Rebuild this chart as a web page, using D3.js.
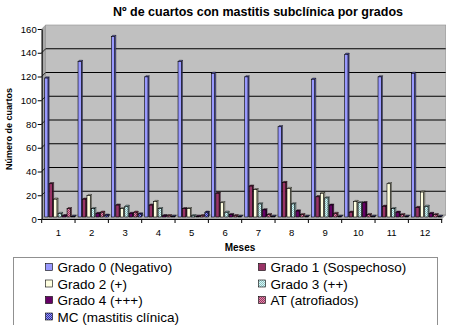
<!DOCTYPE html>
<html><head><meta charset="utf-8">
<script src="https://cdn.jsdelivr.net/npm/d3@7"></script>
<style>body{margin:0;background:#fff}svg{display:block}text{font-family:"Liberation Sans",Arial,sans-serif}</style>
</head><body><svg id="c" width="450" height="325"></svg>
<script>
const months = ["1","2","3","4","5","6","7","8","9","10","11","12"];
const seriesNames = ["Grado 0 (Negativo)","Grado 1 (Sospechoso)","Grado 2 (+)","Grado 3 (++)","Grado 4 (+++)","AT (atrofiados)","MC (mastitis clínica)"];
const grado0 = [117,131,152,118,131,121,118,76,116,137,118,121];
const grado1 = [28,15,10,10,7,20,26,29,17,4,9,8];
const grado2 = [15,18,7,13,7,12,23,24,20,13,28,21];
const grado3 = [3,7,9,7,1,4,11,11,16,12,7,9];
const grado4 = [1,3,3,1,0.5,2,6,5,10,12,4,3];
const at = [7,4,4,1,1,1,2,2,3,2,2,2];
const mc = [0.5,1.5,2.5,0.5,4,0.5,0.5,0.5,0.5,0.5,0.5,0.5];
const yTicks = [0,20,40,60,80,100,120,140,160];
const seriesData = [grado0,grado1,grado2,grado3,grado4,at,mc];

const fills = ["#9999FF","#993366","#FFFFE0","url(#pG3)","#660066","url(#pAT)","url(#pMC)"];
const sides = ["#5c5cb0","#5e1f3f","#b8b8a0","#8fb3b3","#3d003d","#8a3a52","#2a2a70"];

const svg = d3.select("#c");
const defs = svg.append("defs");
function pat(id, bg, fg){
  const p = defs.append("pattern").attr("id",id).attr("width",2).attr("height",2).attr("patternUnits","userSpaceOnUse");
  p.append("rect").attr("width",2).attr("height",2).attr("fill",bg);
  p.append("rect").attr("width",1).attr("height",1).attr("fill",fg);
  p.append("rect").attr("x",1).attr("y",1).attr("width",1).attr("height",1).attr("fill",fg);
}
pat("pG3","#CCFFFF","#99BBBB");
pat("pAT","#E090A8","#993366");
pat("pMC","#9999FF","#333399");

const X0 = 41.7, X1 = 441.7, D = 4;
const y = d3.scaleLinear().domain([0,160]).range([219,29]);
const x = d3.scaleBand().domain(months).range([X0,X1]).padding(0);
const xs = d3.scaleBand().domain(d3.range(7)).range([1,32.3]).padding(0);

// walls
const yb = y(0), yt = y(160);
svg.append("path").attr("d",`M${X0},${yt}L${X0+D},${yt-D}L${X0+D},${yb-D}L${X0},${yb}Z`).attr("fill","#A8A8A8").attr("stroke","#808080").attr("stroke-width",0.5);
svg.append("rect").attr("x",X0+D).attr("y",yt-D).attr("width",X1-X0).attr("height",yb-yt).attr("fill","#C0C0C0").attr("stroke","#909090").attr("stroke-width",0.6);
svg.append("path").attr("d",`M${X0},${yb}L${X0+D},${yb-D}L${X1+D},${yb-D}L${X1},${yb}Z`).attr("fill","#B0B0B0").attr("stroke","#808080").attr("stroke-width",0.5);

// gridlines
yTicks.filter(t=>t>0 && t<160).forEach(t=>{
  svg.append("line").attr("x1",X0+D).attr("x2",X1+D).attr("y1",y(t)-D).attr("y2",y(t)-D).attr("stroke","#000").attr("stroke-width",1);
  svg.append("line").attr("x1",X0).attr("x2",X0+D).attr("y1",y(t)).attr("y2",y(t)-D).attr("stroke","#000").attr("stroke-width",0.8);
});

// bars
const dx = 2, dy = 2, dd = 1.2;
months.forEach((m,i)=>{
  seriesData.forEach((s,k)=>{
    const v = s[i];
    const bx = x(m) + xs(k) + dx;
    const w = xs.bandwidth() - dd;
    const top = y(v) - dy, bot = y(0) - dy;
    const g = svg.append("g");
    g.append("path").attr("d",`M${bx+w},${top}L${bx+w+dd},${top-dd}L${bx+w+dd},${bot-dd}L${bx+w},${bot}Z`).attr("fill",sides[k]).attr("stroke","#000").attr("stroke-width",0.4);
    g.append("path").attr("d",`M${bx},${top}L${bx+dd},${top-dd}L${bx+w+dd},${top-dd}L${bx+w},${top}Z`).attr("fill",sides[k]).attr("stroke","#000").attr("stroke-width",0.4);
    g.append("rect").attr("x",bx).attr("y",top).attr("width",w).attr("height",bot-top).attr("fill",fills[k]).attr("stroke","#000").attr("stroke-width",0.6);
  });
});

// axes
const yAxis = d3.axisLeft(y).tickValues(yTicks).tickSize(4).tickSizeOuter(0);
const ga = svg.append("g").attr("transform",`translate(${X0},0)`).call(yAxis);
ga.select(".domain").attr("stroke","#000");
ga.selectAll("text").attr("font-size","9.5px").attr("fill","#000").attr("x",-5);
const xAxis = d3.axisBottom(x).tickSize(0).tickSizeOuter(0);
const gx = svg.append("g").attr("transform",`translate(0,${yb})`).call(xAxis);
gx.select(".domain").attr("stroke","#000");
gx.selectAll("text").attr("font-size","9.5px").attr("fill","#000").attr("dy","0").attr("y",17);
// boundary ticks
d3.range(13).forEach(j=>{
  const tx = X0 + j*x.step();
  svg.append("line").attr("x1",tx).attr("x2",tx).attr("y1",yb).attr("y2",yb+4).attr("stroke","#000");
});

// titles
svg.append("text").attr("x",258).attr("y",16).attr("text-anchor","middle").attr("font-weight","bold").attr("font-size","12.5px").text("Nº de cuartos con mastitis subclínica por grados");
svg.append("text").attr("x",240).attr("y",251).attr("text-anchor","middle").attr("font-weight","bold").attr("font-size","10px").text("Meses");
svg.append("text").attr("transform","translate(12,129) rotate(-90)").attr("text-anchor","middle").attr("font-weight","bold").attr("font-size","9px").text("Número de cuartos");

// legend
svg.append("rect").attr("x",13.5).attr("y",257.5).attr("width",424).attr("height",80).attr("fill","#fff").attr("stroke","#909090");
seriesNames.forEach((n,k)=>{
  const col = k%2, row = Math.floor(k/2);
  const lx = col ? 258.5 : 45.5, ly = 263.5 + row*16.5;
  svg.append("rect").attr("x",lx).attr("y",ly).attr("width",7).attr("height",7).attr("fill",fills[k]).attr("stroke","#000").attr("stroke-width",0.6);
  svg.append("text").attr("x",lx+12).attr("y",ly+8.5).attr("font-size","13.5px").text(n);
});
</script></body></html>
